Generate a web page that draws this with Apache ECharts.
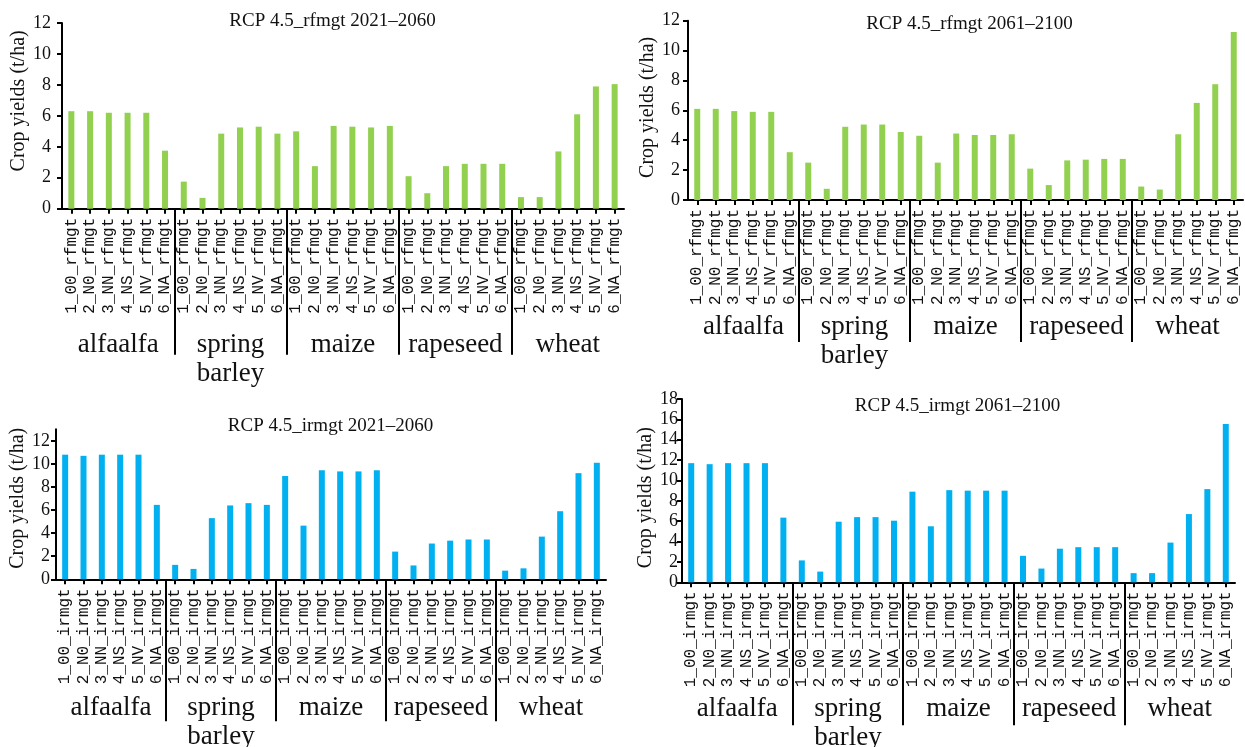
<!DOCTYPE html>
<html><head><meta charset="utf-8">
<script src="https://cdn.jsdelivr.net/npm/echarts@6/dist/echarts.min.js"></script>
<style>html,body{margin:0;padding:0;background:#fff}#c{width:1245px;height:747px}</style>
</head><body><div id="c"></div>
<script>
// ---- data ----
const crops = ['alfaalfa', 'spring\nbarley', 'maize', 'rapeseed', 'wheat'];
const treatments = ['1_00', '2_N0', '3_NN', '4_NS', '5_NV', '6_NA'];
const yTicks12 = [0, 2, 4, 6, 8, 10, 12];
const yTicks18 = [0, 2, 4, 6, 8, 10, 12, 14, 16, 18];
const rfmgt2021 = [6.3, 6.3, 6.2, 6.2, 6.2, 3.75, 1.75, 0.7, 4.85, 5.25, 5.3, 4.85, 5.0, 2.75, 5.35, 5.3, 5.25, 5.35, 2.1, 1.0, 2.75, 2.9, 2.9, 2.9, 0.75, 0.75, 3.7, 6.1, 7.9, 8.05];
const rfmgt2061 = [6.1, 6.1, 5.95, 5.9, 5.9, 3.2, 2.5, 0.75, 4.9, 5.05, 5.05, 4.55, 4.3, 2.5, 4.45, 4.35, 4.35, 4.4, 2.1, 1.0, 2.65, 2.7, 2.75, 2.75, 0.9, 0.7, 4.4, 6.5, 7.75, 11.25];
const irmgt2021 = [10.8, 10.7, 10.8, 10.8, 10.8, 6.45, 1.25, 0.9, 5.3, 6.4, 6.6, 6.45, 8.95, 4.65, 9.45, 9.35, 9.35, 9.45, 2.4, 1.2, 3.1, 3.35, 3.45, 3.45, 0.75, 0.95, 3.7, 5.9, 9.2, 10.1];
const irmgt2061 = [11.7, 11.6, 11.7, 11.7, 11.7, 6.35, 2.15, 1.05, 5.95, 6.4, 6.4, 6.05, 8.9, 5.5, 9.05, 9.0, 9.0, 9.0, 2.6, 1.35, 3.3, 3.45, 3.45, 3.45, 0.9, 0.9, 3.9, 6.7, 9.15, 15.55];

// ---- layout ----
const SERIF = 'Liberation Serif';
const MONO = 'Liberation Mono';
const panels = [
  {title: 'RCP 4.5_rfmgt 2021\u20132060', data: rfmgt2021, mgt: 'rfmgt', color: '#92D050', yMax: 12, yTicks: yTicks12,
   grid: {left: 62, top: 23, width: 562, height: 185.7}, tx: 332.5, ty: 12, nameGap: 29, namePad: [0, 0, 0, 30], sepLen: 146, gMargin: 122, yMargin: 11},
  {title: 'RCP 4.5_rfmgt 2061\u20132100', data: rfmgt2061, mgt: 'rfmgt', color: '#92D050', yMax: 12, yTicks: yTicks12,
   grid: {left: 688, top: 20.7, width: 555, height: 179.3}, tx: 969.5, ty: 14.5, nameGap: 24, namePad: [0, 0, 0, 6], sepLen: 142, gMargin: 112, yMargin: 8},
  {title: 'RCP 4.5_irmgt 2021\u20132060', data: irmgt2021, mgt: 'irmgt', color: '#00B0F0', yMax: 13, yTicks: yTicks12,
   grid: {left: 56, top: 429.3, width: 550, height: 150}, tx: 330.5, ty: 417, nameGap: 23, namePad: [0, 0, 0, 12], sepLen: 142, gMargin: 114, yMargin: 6},
  {title: 'RCP 4.5_irmgt 2061\u20132100', data: irmgt2061, mgt: 'irmgt', color: '#00B0F0', yMax: 18, yTicks: yTicks18,
   grid: {left: 682, top: 399, width: 553, height: 183.3}, tx: 957.5, ty: 396.2, nameGap: 25, namePad: [0, 14, 0, 0], sepLen: 143, gMargin: 112, yMargin: 4}
];

const nT = treatments.length;
const sepValues = crops.slice(1).map((c, i) => (i + 1) * nT);
const groupCenters = crops.map((c, i) => i * nT + nT / 2);

const option = {
  animation: false,
  backgroundColor: '#fff',
  title: [], grid: [], xAxis: [], yAxis: [], series: []
};

panels.forEach((p, i) => {
  const cats = [];
  crops.forEach(() => treatments.forEach(t => cats.push(t + '_' + p.mgt)));
  option.title.push({
    text: p.title, left: p.tx, top: p.ty, textAlign: 'center', padding: 0,
    textStyle: {fontFamily: SERIF, fontSize: 19, fontWeight: 'normal', color: '#111'}
  });
  option.grid.push(Object.assign({containLabel: false, outerBoundsMode: 'none'}, p.grid));
  option.xAxis.push({
    type: 'category', gridIndex: i, data: cats, position: 'bottom',
    axisLine: {show: true, lineStyle: {color: '#000', width: 2}},
    axisTick: {show: true, alignWithLabel: true, length: 5, lineStyle: {color: '#000', width: 2}},
    axisLabel: {interval: 0, rotate: 90, margin: 9, fontFamily: MONO, fontSize: 16, color: '#111'},
    splitLine: {show: false}
  });
  option.xAxis.push({
    type: 'value', gridIndex: i, min: 0, max: cats.length, position: 'bottom',
    axisLine: {show: false},
    axisTick: {show: true, customValues: sepValues, length: p.sepLen, lineStyle: {color: '#000', width: 2}},
    axisLabel: {show: true, customValues: groupCenters, margin: p.gMargin, fontFamily: SERIF, fontSize: 27, lineHeight: 29, color: '#111',
      formatter: v => crops[Math.floor(v / nT)]},
    splitLine: {show: false}
  });
  option.yAxis.push({
    type: 'value', gridIndex: i, min: 0, max: p.yMax,
    name: 'Crop yields (t/ha)', nameLocation: 'middle', nameGap: p.nameGap,
    nameTextStyle: {fontFamily: SERIF, fontSize: 20, color: '#111', padding: p.namePad},
    axisLine: {show: true, lineStyle: {color: '#000', width: 2}},
    axisTick: {show: true, customValues: p.yTicks, length: 5, lineStyle: {color: '#000', width: 2}},
    axisLabel: {customValues: p.yTicks, margin: p.yMargin, fontFamily: SERIF, fontSize: 18, color: '#111'},
    splitLine: {show: false}
  });
  option.series.push({
    type: 'bar', xAxisIndex: i * 2, yAxisIndex: i, data: p.data, barWidth: 6,
    itemStyle: {color: p.color}
  });
});

const chart = echarts.init(document.getElementById('c'), null, {renderer: 'canvas'});
chart.setOption(option);
</script>
</body></html>
